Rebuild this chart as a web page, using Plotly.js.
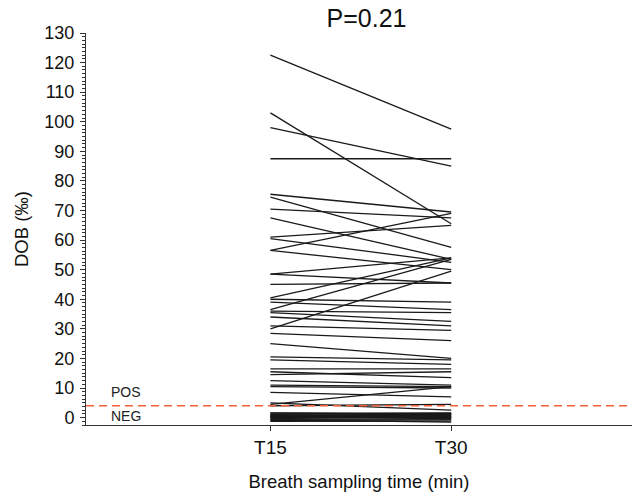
<!DOCTYPE html>
<html>
<head>
<meta charset="utf-8">
<script src="https://cdn.plot.ly/plotly-3.0.1.min.js"></script>
<style>html,body{margin:0;padding:0;background:#fff;}#chart{width:632px;height:497px;}</style>
</head>
<body>
<div id="chart"></div>
<script>
// Paired DOB values (‰) for each subject at T15 and T30
const t15 = [122.5, 103, 98, 87.5, 75.5, 74.5, 70.5, 67.5, 61, 60.5, 56.5, 56.5, 48.5, 48.5, 45,
  40.5, 40, 39, 36.5, 36, 35.5, 34, 31, 30, 28.5, 25, 20.5, 19.5, 16.5, 15.5, 14.5, 12.5, 11, 10.5,
  8.5, 4.5, 4, 5, 1.5, 1.2, 1.0, 0.8, 0.5, 0.3, 0, -0.3, -0.6, -1, -1.3, 1.6, 0.2, -0.8, 0.6];
const t30 = [97.5, 65.5, 85, 87.5, 69.5, 57.5, 67.5, 53.5, 65, 52.5, 69, 50, 54, 45.5, 45.5,
  54, 39, 36.5, 53.5, 35.5, 32.5, 31, 29.5, 49.5, 26, 20, 19.5, 18, 16.5, 13.5, 15.5, 11, 10.5, 10,
  7, 10.5, 4.5, 2.5, 1.2, 1.6, 0.5, 1.0, 0.2, 0.8, 0, 0.3, -0.5, -0.8, -1.2, 1.4, -0.3, -1.5, 1.3];
const timeLabels = ['T15', 'T30'];
const timePos = [1, 2];
const cutoff = 4;
const pText = 'P=0.21';

const xs = [], ys = [];
for (let i = 0; i < t15.length; i++) {
  xs.push(timePos[0], timePos[1], null);
  ys.push(t15[i], t30[i], null);
}

const font = 'Arial, "Liberation Sans", sans-serif';
const traces = [{
  x: xs, y: ys, type: 'scatter', mode: 'lines',
  line: {color: '#1a1a1a', width: 1.3},
  connectgaps: false, hoverinfo: 'skip', showlegend: false
}];

const layout = {
  width: 632, height: 497,
  margin: {l: 86, r: 0, t: 33, b: 72},
  paper_bgcolor: '#fff', plot_bgcolor: '#fff',
  showlegend: false,
  title: {text: pText, font: {family: font, size: 25, color: '#111'}, x: 0.58, xanchor: 'center', y: 0.963, yanchor: 'middle'},
  xaxis: {
    range: [-0.02, 3.0], tickvals: timePos, ticktext: timeLabels,
    showgrid: false, zeroline: false, showline: true, linecolor: '#333', linewidth: 1,
    ticks: 'outside', ticklen: 5, tickcolor: '#333',
    tickfont: {family: font, size: 19, color: '#111'},
    title: {text: 'Breath sampling time (min)', font: {family: font, size: 18.5, color: '#111'}, standoff: 18}
  },
  yaxis: {
    range: [-2.5, 130], tickvals: [0,10,20,30,40,50,60,70,80,90,100,110,120,130],
    showgrid: false, zeroline: false, showline: true, linecolor: '#333', linewidth: 1,
    ticks: 'outside', ticklen: 5, tickcolor: '#333',
    minor: {dtick: 1.25, tick0: 0, ticks: 'outside', ticklen: 3, tickcolor: '#333', showgrid: false},
    tickfont: {family: font, size: 18, color: '#111'},
    ticklabelstandoff: 2,
    title: {text: 'DOB (‰)', font: {family: font, size: 18.5, color: '#111'}, standoff: 10}
  },
  shapes: [{
    type: 'line', xref: 'paper', x0: 0, x1: 1, yref: 'y', y0: cutoff, y1: cutoff,
    line: {color: '#f5603a', width: 1.5, dash: '8px,5px'}
  }],
  annotations: [
    {text: 'POS', xref: 'paper', x: 0.042, xanchor: 'left', yref: 'y', y: cutoff + 4.5, yanchor: 'middle', showarrow: false, font: {family: font, size: 14, color: '#222'}},
    {text: 'NEG', xref: 'paper', x: 0.042, xanchor: 'left', yref: 'y', y: cutoff - 3.6, yanchor: 'middle', showarrow: false, font: {family: font, size: 14, color: '#222'}}
  ]
};

Plotly.newPlot('chart', traces, layout, {staticPlot: true, displayModeBar: false});
</script>
</body>
</html>
